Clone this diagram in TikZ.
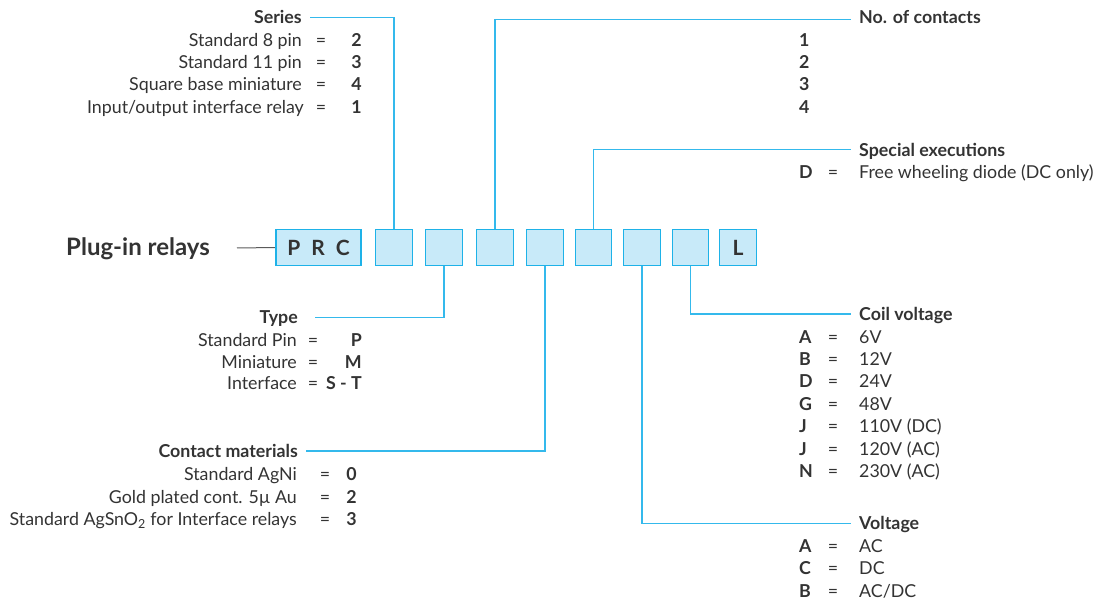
\documentclass[tikz,border=0pt]{standalone}
\usepackage{fontspec}
\setmainfont{Lato}
\usepackage{tikz}
\definecolor{ink}{RGB}{51,51,51}
\definecolor{boxfill}{RGB}{200,234,249}
\definecolor{boxline}{RGB}{30,178,232}
\definecolor{leadblue}{RGB}{52,185,236}
\definecolor{plugline}{RGB}{90,90,90}
\newcommand{\itemfont}{\fontsize{17.8}{21}\selectfont}
\newcommand{\codefont}{\fontsize{17.8}{21}\selectfont\bfseries}
\newcommand{\plugfont}{\fontsize{24}{28}\selectfont\bfseries}
\newcommand{\boxfont}{\fontsize{21}{25}\selectfont\bfseries}
\pgfdeclarelayer{edgelayer}
\pgfdeclarelayer{nodelayer}
\pgfsetlayers{edgelayer,nodelayer,main}
\tikzstyle{none}=[inner sep=0pt]
\tikzstyle{digit}=[rectangle,fill=boxfill,draw=boxline,line width=1.3,minimum width=36.4,minimum height=36.4,inner sep=0pt,text=ink,font=\boxfont]
\tikzstyle{lead}=[-,draw=leadblue,line width=1.5]
\tikzstyle{plugwire}=[-,draw=plugline,line width=1.000]
\tikzstyle{descR}=[inner sep=0pt,text=ink,font=\itemfont,anchor=base east,yshift=-6.4]
\tikzstyle{descL}=[inner sep=0pt,text=ink,font=\itemfont,anchor=base west,yshift=-6.4]
\tikzstyle{eqsign}=[inner sep=0pt,text=ink,font=\itemfont,anchor=base,yshift=-6.4]
\tikzstyle{codeR}=[inner sep=0pt,text=ink,font=\codefont,anchor=base east,yshift=-6.4]
\tikzstyle{codeL}=[inner sep=0pt,text=ink,font=\codefont,anchor=base west,yshift=-6.4]
\tikzstyle{plug}=[inner sep=0pt,text=ink,font=\plugfont,anchor=base east,yshift=-8.5]

\begin{document}
\begin{tikzpicture}[x=1pt,y=-1pt]
	\useasboundingbox (0,0) rectangle (1100,601);
	\begin{pgfonlayer}{nodelayer}
		\node [style=plug] (plug) at (210, 247.5) {Plug-in relays};
		\node [style=digit, minimum width=85] (prc) at (318.5, 247.5) {P\hspace{11pt}R\hspace{11pt}C};
		\node [style=digit] (b1) at (394, 247.5) {};
		\node [style=digit] (b2) at (444, 247.5) {};
		\node [style=digit] (b3) at (495, 247.5) {};
		\node [style=digit] (b4) at (545, 247.5) {};
		\node [style=digit] (b5) at (593.5, 247.5) {};
		\node [style=digit] (b6) at (642, 247.5) {};
		\node [style=digit] (b7) at (690.5, 247.5) {};
		\node [style=digit] (bl) at (738, 247.5) {L};

		\node [style=none] (plugE) at (237, 248) {};
		\node [style=none] (serE) at (310, 17.3) {};
		\node [style=none] (nocE) at (851, 19.3) {};
		\node [style=none] (spxE) at (851, 149.3) {};
		\node [style=none] (typE) at (315, 317.3) {};
		\node [style=none] (conE) at (306, 451) {};
		\node [style=none] (coiE) at (851, 314) {};
		\node [style=none] (volE) at (851, 523.7) {};

		% series
		\node [style=codeR] (ser) at (302, 17.5) {Series};
		\node [style=descR] (ser1) at (302, 40) {Standard 8 pin};
		\node [style=eqsign] (ser1q) at (321, 40) {=};
		\node [style=codeR] (ser1v) at (362, 40) {2};
		\node [style=descR] (ser2) at (302, 62) {Standard 11 pin};
		\node [style=eqsign] (ser2q) at (321, 62) {=};
		\node [style=codeR] (ser2v) at (362, 62) {3};
		\node [style=descR] (ser3) at (302, 84) {Square base miniature};
		\node [style=eqsign] (ser3q) at (321, 84) {=};
		\node [style=codeR] (ser3v) at (362, 84) {4};
		\node [style=descR] (ser4) at (304, 107) {Input/output interface relay};
		\node [style=eqsign] (ser4q) at (321, 107) {=};
		\node [style=codeR] (ser4v) at (362, 107) {1};

		% no. of contacts
		\node [style=codeL] (noc) at (859, 17.5) {No. of contacts};
		\node [style=codeL] (noc1) at (799, 40) {1};
		\node [style=codeL] (noc2) at (799, 62) {2};
		\node [style=codeL] (noc3) at (799, 84) {3};
		\node [style=codeL] (noc4) at (799, 107) {4};

		% special executions
		\node [style=codeL] (spx) at (859, 150) {Special executions};
		\node [style=codeL] (spx1v) at (799, 172) {D};
		\node [style=eqsign] (spx1q) at (833, 172) {=};
		\node [style=descL] (spx1) at (859, 172) {Free wheeling diode (DC only)};

		% type
		\node [style=codeR] (typ) at (298, 317.5) {Type};
		\node [style=descR] (typ1) at (297, 340) {Standard Pin};
		\node [style=eqsign] (typ1q) at (313, 340) {=};
		\node [style=codeR] (typ1v) at (362, 340) {P};
		\node [style=descR] (typ2) at (297, 362) {Miniature};
		\node [style=eqsign] (typ2q) at (313, 362) {=};
		\node [style=codeR] (typ2v) at (362, 362) {M};
		\node [style=descR] (typ3) at (297, 383) {Interface};
		\node [style=eqsign] (typ3q) at (313, 383) {=};
		\node [style=codeR] (typ3v) at (362, 383) {S - T};

		% contact materials
		\node [style=codeR] (con) at (298, 451) {Contact materials};
		\node [style=descR] (con1) at (297, 474) {Standard AgNi};
		\node [style=eqsign] (con1q) at (325, 474) {=};
		\node [style=codeR] (con1v) at (357, 474) {0};
		\node [style=descR] (con2) at (297, 497) {Gold plated cont. 5µ Au};
		\node [style=eqsign] (con2q) at (325, 497) {=};
		\node [style=codeR] (con2v) at (357, 497) {2};
		\node [style=descR] (con3) at (297, 519) {Standard AgSnO\textsubscript{2} for Interface relays};
		\node [style=eqsign] (con3q) at (325, 519) {=};
		\node [style=codeR] (con3v) at (357, 519) {3};

		% coil voltage
		\node [style=codeL] (coi) at (859, 314) {Coil voltage};
		\node [style=codeL] (coi1v) at (799, 336.7) {A};
		\node [style=eqsign] (coi1q) at (833, 336.7) {=};
		\node [style=descL] (coi1) at (859, 336.7) {6V};
		\node [style=codeL] (coi2v) at (799, 359) {B};
		\node [style=eqsign] (coi2q) at (833, 359) {=};
		\node [style=descL] (coi2) at (859, 359) {12V};
		\node [style=codeL] (coi3v) at (799, 381) {D};
		\node [style=eqsign] (coi3q) at (833, 381) {=};
		\node [style=descL] (coi3) at (859, 381) {24V};
		\node [style=codeL] (coi4v) at (799, 404) {G};
		\node [style=eqsign] (coi4q) at (833, 404) {=};
		\node [style=descL] (coi4) at (859, 404) {48V};
		\node [style=codeL] (coi5v) at (799, 426) {J};
		\node [style=eqsign] (coi5q) at (833, 426) {=};
		\node [style=descL] (coi5) at (859, 426) {110V (DC)};
		\node [style=codeL] (coi6v) at (799, 448.7) {J};
		\node [style=eqsign] (coi6q) at (833, 448.7) {=};
		\node [style=descL] (coi6) at (859, 448.7) {120V (AC)};
		\node [style=codeL] (coi7v) at (799, 471) {N};
		\node [style=eqsign] (coi7q) at (833, 471) {=};
		\node [style=descL] (coi7) at (859, 471) {230V (AC)};

		% voltage
		\node [style=codeL] (vol) at (859, 523.5) {Voltage};
		\node [style=codeL] (vol1v) at (799, 546) {A};
		\node [style=eqsign] (vol1q) at (833, 546) {=};
		\node [style=descL] (vol1) at (859, 546) {AC};
		\node [style=codeL] (vol2v) at (799, 568) {C};
		\node [style=eqsign] (vol2q) at (833, 568) {=};
		\node [style=descL] (vol2) at (859, 568) {DC};
		\node [style=codeL] (vol3v) at (799, 591) {B};
		\node [style=eqsign] (vol3q) at (833, 591) {=};
		\node [style=descL] (vol3) at (859, 591) {AC/DC};
	\end{pgfonlayer}
	\begin{pgfonlayer}{edgelayer}
		\draw [style=plugwire] (plugE.center) to (prc.west);
		\draw [style=lead] (b1.north) |- (serE.center);
		\draw [style=lead] (b3.north) |- (nocE.center);
		\draw [style=lead] (b5.north) |- (spxE.center);
		\draw [style=lead] (b2.south) |- (typE.center);
		\draw [style=lead] (b4.south) |- (conE.center);
		\draw [style=lead] (b6.south) |- (volE.center);
		\draw [style=lead] (b7.south) |- (coiE.center);
	\end{pgfonlayer}
\end{tikzpicture}
\end{document}
